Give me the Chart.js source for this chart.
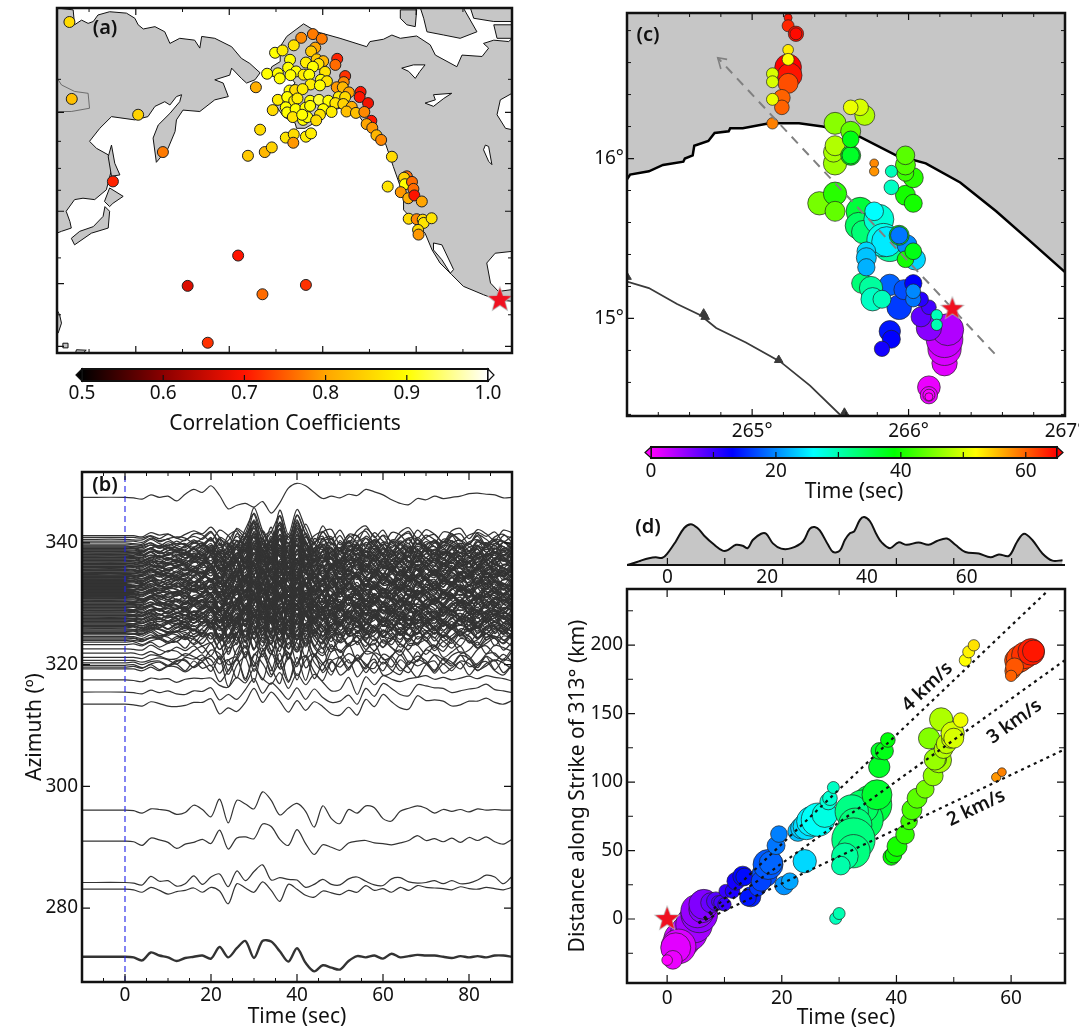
<!DOCTYPE html>
<html>
<head>
<meta charset="utf-8">
<title>Rupture back-projection</title>
<script src="https://cdn.jsdelivr.net/npm/chart.js@4/dist/chart.umd.min.js"></script>
<style>
html,body{margin:0;padding:0;background:#fff;width:1079px;height:1029px;overflow:hidden}
canvas{position:absolute;left:0;top:0}
</style>
</head>
<body>
<canvas id="mapA" width="1200" height="1100"></canvas>
<canvas id="barA" width="1200" height="1100"></canvas>
<canvas id="waves" width="1200" height="1100"></canvas>
<canvas id="mapC" width="1200" height="1100"></canvas>
<canvas id="barC" width="1200" height="1100"></canvas>
<canvas id="envelope" width="1200" height="1100"></canvas>
<canvas id="rupture" width="1200" height="1100"></canvas>
<script>
// ---- panel (a) stations: lon (deg E), Mercator lat (deg), correlation
var stationLon = [125.8,126.3,140.5,145.8,135.1,161.9,151.1,167.1,176.4,155.4,164,167.6,169.1,166.6,165.7,172.1,173.8,173.7,176.4,177.5,175.4,177.9,179.8,173.8,178.4,177.5,169.8,171.4,173,176.4,178.7,180.1,183.1,182.7,179.1,172.6,177.9,168.1,170.4,170.8,174.3,173.1,175.9,177.1,180.5,179.6,180.9,184.8,184.5,177.4,179.4,183,184.3,185.6,188.1,187.9,189.7,172.9,174.1,175.7,170.4,172.4,173.9,174.6,177.3,179.2,181.2,183.4,184.8,182.7,184.4,186.2,169.3,172.1,172.4,174.2,176.3,177.3,180.1,181.9,185.1,187.1,188.9,173.6,175.8,176.7,179.4,178.6,175.6,190.4,189.4,190.6,191.5,192.5,194.8,193.9,198,197.4,197.6,199.1,199.4,196.7,198.3,199.6,201.2,198.4,200.1,201.4,201.6,203.3,200.4,200.5];
var stationLat = [75,58.5,55.1,47.1,40.8,24.9,18.4,16.6,18.6,6.2,46.3,47.1,48.1,51.9,61,50.2,50.9,49.1,50.4,51.1,71.6,72.4,71.4,70,69.5,68.7,68.4,68.9,66.9,66.3,67,66.6,67.1,65.8,66,65.2,65.4,63.9,64,62.9,64.4,63.6,63.7,63.7,64.3,62.6,62.3,63.4,62.1,61.6,61.4,61,61,59.9,60,58.9,57.6,60.3,60.4,60.6,58.3,58.9,58.1,58.6,58.1,58.3,58.1,58.9,58.9,57.6,57.4,56.8,56.1,56.7,55.6,56.3,56.6,57,56.3,55.7,55.8,55.5,55.7,54.6,54,54.6,55.1,53.9,55.1,53.8,53.1,52.3,50.7,49.7,46.1,39.7,41.9,41.6,40.2,40.7,39.2,38.5,37.2,37.8,36.5,32.8,32.7,32.6,31.9,32.9,30.4,29.4];
var stationCorr = [.86,.83,.85,.77,.71,.70,.67,.76,.72,.72,.84,.82,.85,.86,.81,.87,.86,.79,.88,.88,.78,.77,.77,.87,.80,.84,.9,.88,.9,.88,.84,.82,.71,.76,.87,.9,.9,.9,.9,.9,.9,.9,.88,.9,.87,.9,.87,.72,.78,.88,.9,.79,.82,.8,.70,.70,.69,.9,.86,.88,.88,.9,.88,.88,.9,.92,.9,.88,.86,.87,.85,.81,.86,.9,.9,.9,.9,.9,.9,.88,.83,.83,.78,.87,.9,.9,.87,.86,.9,.70,.80,.79,.82,.78,.86,.87,.76,.85,.9,.76,.76,.79,.81,.70,.80,.86,.78,.86,.87,.87,.86,.79];
var epicenterLon = [217.9], epicenterLat = [15.4];
var landAsia = [[123.1,78],[126.6,77.6],[126.9,74.4],[128.4,75.4],[129.8,74.7],[130.9,75.1],[131.9,76.5],[134.4,77.2],[138,76.9],[139.8,75.8],[140.5,74.4],[141.6,73.5],[144.1,74],[146.2,72.9],[147.3,70.4],[149.4,71.5],[152.6,71.1],[153.7,69.4],[154.1,71.9],[156.9,71.5],[160.5,69.7],[162.6,67.2],[164.4,66.1],[166.6,64.1],[165.5,62.6],[163.7,61.9],[162.6,62.9],[160.5,65.1],[160.1,63.6],[156.9,62.6],[158.7,61.9],[159.8,59],[156.9,58.3],[153.7,55.8],[150.1,56.1],[148.7,54],[148.4,51.5],[146.9,47.9],[144.4,44.9],[143.7,50.1],[144.8,52.9],[147.3,55.4],[149.4,57.9],[149.8,59.4],[148.7,59],[147.3,57.2],[146.2,57.9],[144.1,56.9],[142.6,54.7],[139.8,54],[134.8,54.7],[132.3,52.2],[130.1,49.4],[131.6,47.9],[134.1,46.5],[134.8,43.3],[133.7,39],[131.2,36.9],[128.7,37.2],[126.9,36.9],[125.1,34.4],[125.9,32.2],[126.2,30.8],[124.1,30.1],[123.1,29.7]];
var landAmerica = [[174.4,52.2],[174.1,53.3],[171.6,54.7],[170.1,56.9],[171.6,59.7],[174.1,61.9],[173,63.3],[168.4,63.4],[169.1,65.4],[170.9,66.5],[170.9,69.7],[172.3,71.9],[175.9,74.6],[178.7,72.9],[183.7,71.5],[189.4,69.7],[190.1,70.8],[193,71.3],[194.8,72.2],[196.6,71.5],[200.1,72],[203,70.1],[204.1,67.9],[208.7,65.4],[209.8,67.9],[214.1,67.6],[215.5,69.4],[214.4,70.4],[216.6,71.1],[219.8,70.8],[220.5,71.5],[220.5,59.7],[218,58.3],[217.3,55.1],[219.1,52.2],[220.5,51.9],[220.5,25.8],[216.9,25.4],[215.1,23.3],[215.9,19],[217.6,17.2],[220.5,17.6],[220.5,15.1],[217.3,15.4],[214.4,16.5],[210.1,18.3],[207.6,20.8],[205.1,23.3],[203.4,26.1],[201.9,29.7],[197.3,34.7],[197.3,37.6],[196.6,39.7],[195.1,44],[193.4,49],[191.6,50.8],[189.1,52.9],[187.6,55.1],[184.4,56.7],[181.2,55.8],[178.7,53.6],[176.2,52.2]];
var landIslands = [
  [[134.8,48.6],[135.5,44.7],[136.6,42.2],[134.8,41.9],[134.1,46.1]],
  [[134.4,39.4],[137.3,37.6],[135.1,36.1],[134.4,35.4],[133.3,36.5]],
  [[133.4,35.4],[134.4,34.4],[134.1,30.8],[130.5,29.7],[126.9,27.2],[126.2,28.6],[128,30.1],[130.9,31.1],[133,33.3]],
  [[123.1,13.3],[123.7,12.2],[124.1,10.4],[123.4,8.3],[123.1,8.3]],
  [[127.3,4.7],[129.4,4.6],[128.7,4],[127.1,4]],
  [[124.4,6.1],[125.5,6.1],[125.5,5.1],[124.4,5.1]],
  [[196.6,77.6],[200.1,77.6],[199.8,74],[198,74.4],[196.6,75.8]],
  [[200.9,78],[210.1,78],[213,72.9],[209.4,71.5],[205.9,72.2],[202.3,72.9],[201.6,75.8]],
  [[211.6,78],[220.5,78],[220.5,75.1],[216.6,75.1],[212.3,75.8]],
  [[216.6,74.4],[220.5,74.4],[220.5,71.5],[217.3,71.5]]
];
var lakes = [
  [[196.9,65.1],[199.4,65.8],[201.9,65.8],[200.8,64.4],[199.8,62.9],[198.4,64.4]],
  [[201.9,57.6],[204.1,58.3],[203.7,59.4],[207.6,59.7],[205.9,58.6],[203.7,56.9]],
  [[214.8,48.6],[215.5,48.3],[216.2,44.4],[215.5,45.1],[214.4,47.6]],
  [[203.7,27.6],[205.5,27.2],[208,21.9],[207.3,21.1],[205.5,24],[203.7,26.1]]
];
var riverLon = [123.4,124.1,126.9,129.8,130.1,126.2,123.4];
var riverLat = [62.6,61.5,60.1,59.7,56.5,55.8,55.8];
var corrTicks = [0.5,0.6,0.7,0.8,0.9,1.0];
var corrStops = [0.5,0.6,0.7,0.8,0.9,1.0];
var corrColors = [[0,0,0],[139,0,0],[255,20,0],[255,165,0],[255,255,0],[255,255,255]];

// ---- panel (b) seismograms. waveTime is shared; each shape holds the offset from the trace azimuth.
// The isolated traces are read one by one. The dense 319-341 band cannot be separated by eye,
// so its traces reuse the ten typed shapes bandShapes, picked by bandOrder, at the bandAzimuth values.
var waveTime = [-10,0,2,4,6,8,10,12,14,16,18,20,22,24,26,28,30,32,34,36,38,40,42,44,46,48,50,52,54,56,58,60,62,64,66,68,70,72,74,76,78,80,82,84,86,88,90];
var traceAzimuth = [347.5,317.5,315.5,313.5,296.1,291,284.2,283.1,272];
var traceShapes = [
  [0,0,-.1,-.3,.4,0,.2,-.6,.5,1.3,.8,1.9,.3,-1.9,-1.3,-1,-1.6,-.7,-2.6,-.9,1.5,2.3,1.9,.8,-.2,.2,-.1,.5,.3,1.3,.9,.4,-.4,-1,-1.2,-.2,-.4,.2,-.2,0,.2,.6,.7,.5,.4,-.1,0],
  [0,0,-.1,-.3,.3,.1,.2,-.4,.1,.3,.2,.3,-.9,-1.2,.4,-.5,1.8,.2,-.7,1.2,-1.4,1,-.8,.9,-.4,-1.8,-1.6,.4,-2.4,.5,-.8,.7,.1,-.3,.2,.4,.7,.1,.4,0,.3,.6,.2,.7,.4,.2,-.2],
  [0,0,-.1,-.3,.3,-.1,.2,-.3,-.4,.2,.1,.7,-1.3,-.4,-1.2,.4,2.2,-.2,1.5,.3,-1.2,.7,-1.2,.5,-.9,-1.7,-1.5,-.5,-2,.6,-.7,1.4,.6,-.4,-.6,1.2,1,.7,.6,-.1,.2,.5,.7,1.3,.4,.2,-.1],
  [0,0,-.1,-.3,.4,.1,-.3,-.4,-.2,.3,.3,.9,-1.6,-.6,-1.2,.3,2.6,.3,2,.5,-1.3,.6,-1,.4,-.4,-1.6,-1.8,-.5,-1.8,.8,-.4,1.6,.4,-.6,-.8,1.4,.6,.7,.5,-.3,-.1,.5,.5,1,.3,0,.6],
  [0,0,-.1,-.5,.2,.1,-.1,-.7,-.4,.8,.1,-1.1,1.8,-2.1,1.6,1,.2,3,1.6,-.8,.3,1.1,-.2,-2.8,.7,-1.4,-2.2,.1,-.5,.7,.4,-1.4,-1.8,-.2,.3,.7,.3,-.5,.1,-.2,.1,-.3,.2,0,.1,0,0],
  [0,0,-.1,-.7,.5,.2,-.2,-1.2,-.5,-.2,.3,-.4,1.8,-1.3,.5,.7,.4,2.8,2.4,.3,-.7,1.9,-.4,-2.2,-.6,-1,-1.5,-.3,0,.1,-.3,-.4,-.6,-.3,.1,.9,.1,.4,-.1,.5,-.2,.6,.1,.7,-.1,-.5,.3],
  [0,0,-.1,-.4,1,.2,.3,-.6,-.2,1.1,-.3,.9,1.4,-.7,1.9,.3,1.8,2.9,.4,.8,.5,.4,-.8,-.3,.5,-.3,-.4,.6,.9,.2,-.4,-.5,.6,.8,.1,-.1,0,.3,-.2,.3,-.2,-.1,.4,1.2,.9,-.2,1],
  [0,0,-.1,-.5,.3,-.2,-.8,-.4,-.2,.2,-.5,.3,-.3,-2.4,.9,.2,-.5,1.2,-.2,-2,.8,0,-1,-1.3,-.3,-.6,-.9,-.2,-.5,.6,-.2,.1,-.5,.3,-.2,.6,.3,.2,.1,-.1,.4,.1,0,.3,.1,-.1,.3],
  [0,0,-.1,-.6,.7,.2,-.1,-.7,-.2,0,.2,-.3,1.6,-.1,1.4,2.6,-.2,2.6,2.5,.9,-.8,1.4,-1,-2.4,-1.4,-1.8,-2.1,-.7,.1,-.1,.2,-.3,.5,-.1,.1,.3,.2,.2,0,-.2,.1,-.1,.1,-.1,.2,.2,0]
];
var bandAzimuth = [319.3,319.6,319.9,320.3,320.7,321.2,321.9,322.6,323.3,323.7,324,324.2,324.4,324.6,324.9,325.1,325.4,325.7,325.9,326.2,326.4,326.7,327,327.2,327.5,327.7,328,328.2,328.5,328.8,329,329.3,329.5,329.8,330,330.3,330.5,330.8,331,331.2,331.5,331.7,332,332.2,332.5,332.7,333,333.2,333.5,333.7,334,334.2,334.5,334.7,335,335.2,335.5,335.7,336,336.2,336.5,336.7,337,337.2,337.5,337.7,338,338.2,338.5,338.7,339,339.2,339.5,339.7,340,340.3,340.6,340.9,341.2];
var bandOrder = [1,5,2,7,4,8,1,3,5,2,8,7,4,1,5,9,2,8,3,7,1,4,5,2,8,3,9,6,2,7,0,5,8,4,1,9,3,6,7,2,5,0,8,4,9,1,6,3,7,5,2,9,4,0,8,6,1,3,7,6,0,9,3,0,4,6,9,0,3,6,2,0,9,6,3,0,9,6,0];
var bandExtraAzimuth = [325.25,325.55,326.05,326.3,326.55,326.85,327.1,327.35,327.6,327.85,328.1,328.35,328.65,328.9,329.15,329.4,329.65,329.9,330.15,330.4,330.65,330.9,331.1,331.35,331.6,331.85,332.1,332.35,332.6,332.85,333.1,333.35,333.6,333.85,334.1,334.35,334.6,334.85,335.1,335.35,335.6,335.85,336.1,336.35,336.6,336.85,337.1,337.35,337.6,337.85,338.1,338.35,338.6,338.85,339.1,339.35];
var bandExtraOrder = [3,8,2,7,5,9,4,1,6,2,8,3,5,7,9,1,4,6,3];
var bandShapes = [
  [0,0,0,-.2,.5,.1,.3,-.4,.2,.8,.3,1.4,-.3,-1.8,1.2,.4,4.6,.8,-1.5,4.2,.2,4.3,1.2,-1.3,1.6,-.6,.9,-1.2,.8,1.6,-.3,.9,-1.1,.6,1.3,-.4,1,.2,-1,.8,1.2,-.5,1,.3,-.8,.9,.5],
  [0,0,0,-.3,.3,-.3,.4,.3,-.5,.4,1.1,-.4,1.8,-2.9,.6,1.9,-2.2,3.1,.3,-2.4,2.6,-1.8,2.2,-.4,-1.9,1.1,.3,1.5,-1.3,.4,1.6,-1,-.6,1.5,.2,-1.4,.7,1.3,-.7,.2,1.1,-1,.6,1.2,-.3,-1,.7],
  [0,0,.1,-.4,.2,.5,-.2,.6,.9,-.4,.6,1.5,.2,.9,-2.1,2.2,.5,-2.4,1.8,.4,-2.8,1.3,-2.5,1.7,.3,-1.6,1.4,-.4,.9,-1.2,.5,-.9,1.4,-.3,-1.2,.9,.2,-1,1.1,.5,-.6,1,-.9,.3,.9,.4,-.7],
  [0,0,-.1,-.2,.6,-.1,-.5,.3,-.3,.5,-.7,.9,-1.6,1.2,1.9,-1.3,3.4,-.9,2.6,-2.1,1,-.5,3.1,.2,-1.1,.7,-1.5,.9,1.2,-.8,-.4,1.3,.2,-1.1,.8,.6,-.9,.5,-.4,1.2,-.7,-.2,1.1,-.8,.6,.2,-.4],
  [0,0,0,-.3,.1,.4,.1,-.6,.5,.2,.9,-.9,.7,-2.3,.5,2.4,-1.8,1.6,2.7,-1.4,.4,2.9,-1.2,.8,2,-1.8,-.3,1.1,.2,-1.4,1.2,.4,-1.1,.9,-.7,1.4,-.5,.9,.1,-.9,.8,.3,-1.2,.7,-.1,1,-.3],
  [0,0,.1,-.2,.4,-.4,.2,.5,-.6,1,-.2,.3,-2.4,-.6,1.3,-2.2,2.1,.6,-1.6,2.3,-2.3,.7,1.8,-1.9,.6,1.2,-1.3,-.2,1.5,.5,-1,.8,-.5,-1.2,1,.2,.7,-1,.5,-.6,1,.6,-.5,.2,1.1,-.9,.4],
  [0,0,0,-.1,.3,-.2,.5,-.1,-.5,.6,.4,-.6,1.2,.3,-1.5,1.4,3.8,-.7,.9,3.5,-1.1,3.6,.5,-.9,.9,1.3,-1.2,.3,-.6,1.4,.2,-1.3,.8,.4,-1,1.2,-.2,-.9,.9,.6,-.4,-1.1,.8,.2,.9,-.7,.3],
  [0,0,.1,-.3,.2,.3,-.4,.4,.3,-.7,.8,.5,-1.7,.4,.9,-2.6,1.2,2.4,-1.9,.2,1.7,-2.1,.4,1.5,-1.6,.3,.8,-1.2,1.3,-.5,-.9,1.4,.6,-1.3,-.2,1.1,.3,-1.2,.6,-.2,1.3,-.6,-.1,1,-1.1,.5,.2],
  [0,0,0,-.2,.4,.2,-.3,-.2,.6,.1,-.5,1.2,.6,-1.2,-.4,1.7,-1.4,.5,-2.2,1.9,.7,-1.5,2.4,-.8,-2.1,.9,1.2,-.9,-.3,1,.5,-1.1,.3,1.2,-.8,-.5,1.2,.4,-1.1,.3,.9,.2,-1.3,.5,.7,-.6,.9],
  [0,0,-.1,-.1,.5,-.4,.1,.4,.2,-.6,.2,1.3,-1,-.2,1.6,.3,2.9,1.1,-1.2,2.8,.4,3.2,-.8,.6,1.2,-.5,-1.4,.8,.5,-1.1,1.1,-.3,-.8,.4,1.3,-.9,.3,.8,-.6,.9,-.3,.7,1,-1,.4,.8,-.5]
];
var waveTimeTicks = [0,20,40,60,80];
var azimuthTicks = [280,300,320,340];

// ---- panel (c) back-projected sources
var cLon = [266.23,266.23,266.23,266.25,266.13,266.08,266.13,266.08,266.13,266.13,266.13,266.13,265.94,265.88,265.97,266.03,266.03,266.03,265.88,265.89,265.83,265.7,265.76,265.77,265.83,265.88,265.69,265.68,265.71,265.81,265.84,265.86,265.78,266.04,265.99,265.94,265.94,265.98,266.03,265.73,265.73,265.73,265.43,265.53,265.53,265.98,266.03,266.03,265.98,265.98,265.98,265.89,265.89,265.78,265.78,265.72,265.69,265.63,265.53,265.53,265.52,265.53,265.63,265.63,265.63,265.63,265.23,265.24,265.23,265.19,265.19,265.23,265.23,265.28,265.28,265.13,265.13,265.13,265.23,265.23,265.13,266.18,266.18];
var cLat = [14.72,14.81,14.87,14.93,14.94,15.01,15.07,15.12,14.57,14.52,14.52,14.51,15.07,15.21,15.18,15.22,15.12,15.17,14.92,14.87,14.81,15.22,15.19,15.12,15.12,15.46,15.67,15.58,15.54,15.62,15.49,15.48,15.67,15.37,15.46,15.52,15.52,15.37,15.42,15.42,15.38,15.32,15.72,15.78,15.67,15.77,15.72,15.88,15.91,15.96,16.02,15.92,15.82,15.97,15.92,16.27,16.32,16.32,16.22,15.97,16.04,16.08,16.17,16.02,16.02,16.12,16.57,16.52,16.47,16.38,16.32,16.88,16.83,16.78,16.78,16.53,16.48,16.37,16.68,16.62,16.22,15.02,14.96];
var cPower = [38,50,55,48,38,30,22,22,34,26,18,12,37,32,30,26,23,22,32,27,23,30,35,35,27,50,42,40,35,45,50,45,28,32,30,30,26,25,25,28,30,26,35,35,30,30,27,30,25,30,28,18,22,13,14,30,25,22,33,35,30,30,30,30,26,25,40,37,30,25,22,12,18,23,18,18,18,18,16,18,17,17,17];
var cTime = [1.5,2,3,4,6,8,9.5,11,1,1,.5,0,16,18,17,13,19,20,14,13,12,33,31,29,29.5,31,36,34,33,28,27,25,26,24,20,38,19,40,38,24,23,22,45,41,44,40,40,41,42,43,43.5,29.5,29,58,57.5,48,50,51,46,47,47.5,48,44,38,37,38,65,64,61,60,60,64,63,64,64.5,50,50,51,53,52,58.5,29.5,30];
var cEpicenterLon = [266.28], cEpicenterLat = [15.06];
var coastLon = [264.2,264.22,264.34,264.43,264.56,264.57,264.62,264.63,264.72,264.76,264.85,264.86,264.94,265.11,265.2,265.3,265.45,265.64,265.92,266.11,266.33,266.56,266.77,267];
var coastLat = [15.87,15.9,15.92,15.96,15.98,16,16.02,16.08,16.11,16.16,16.17,16.19,16.19,16.22,16.22,16.22,16.2,16.16,16.02,15.97,15.85,15.67,15.49,15.29];
var trenchLon = [264.2,264.34,264.52,264.67,264.77,264.96,265.18,265.37,265.57];
var trenchLat = [15.23,15.19,15.09,15.02,14.94,14.85,14.73,14.58,14.39];
var toothLon = [264.69,264.7,265.17,265.59,264.2];
var toothLat = [15.03,15.01,14.74,14.41,15.26];
var strikeLon = [266.55,264.78];
var strikeLat = [14.78,16.63];
var strikeHeadLon = [264.84,264.78,264.8];
var strikeHeadLat = [16.62,16.63,16.56];
var timeBarTicks = [0,20,40,60];
var timeStops = [0,13,26,39,52,65];
var timeColors = [[255,0,255],[0,0,255],[0,255,255],[0,255,0],[255,255,0],[255,0,0]];

// ---- panel (d) top: source time function
var envTime = [-8.05,-7.05,-5.37,-3.69,-2.35,-1,0,1.68,3.36,4.7,6.04,7.38,9.4,11.07,12.08,13.76,15.1,16.1,17.11,18.79,19.8,21.14,22.82,24.83,27.18,28.52,29.53,30.54,32.21,33.22,34.56,35.57,36.58,37.45,38.59,39.46,40.6,41.95,42.95,44.63,46.3,47.99,50.34,52.35,54.03,56.04,57.72,59.73,62.42,64.77,66.44,68.46,70.13,71.48,73.15,75.17,77.18,79.2];
var envAmp = [0,.03,.09,.14,.16,.15,.24,.49,.77,.85,.77,.61,.42,.3,.31,.42,.4,.35,.52,.65,.65,.45,.34,.35,.49,.75,.79,.72,.42,.27,.3,.52,.66,.7,.94,1,.91,.63,.47,.35,.47,.42,.47,.42,.5,.55,.42,.27,.24,.16,.22,.19,.49,.65,.52,.24,.09,.1];
var envTicks = [0,20,40,60];
var envMarks = [0,11.5,23.1,34.5,45.9,57.4,69];

// ---- panel (d) bottom: distance along strike against time
var dTime = [2.6,3.8,4.7,5.6,5.3,6.1,6.4,2,1.5,1,0,7.6,8.5,8.8,9.4,10,10.2,11.4,12,13.2,13.5,14.6,14.1,15.8,17,16.4,17.6,18.1,19,19.5,20.4,21.4,24,22.8,23.4,24.3,25.2,26.3,27.5,28.1,28.4,29,35.7,34.2,34,32.2,32.8,32.5,32.5,31,30.3,36.6,29.4,30,37,37,37.9,38.5,39.1,39.5,40.1,41.5,42.2,42.7,43.6,45,46.4,47.4,47,46.7,45.7,47.8,48.2,48.7,49.4,49.8,50,51.2,52,52.6,53.5,57.4,58.4,60.3,61,60.9,61.5,62.4,60.6,63.5,60,63.9];
var dDist = [-15,-10,-4,3.4,5.8,7,10.7,-20,-21,-29.8,-30,11.9,13,12.6,11.9,10.7,20.4,20.4,27.6,31.3,30.8,16.2,15.5,22.8,32.5,27.6,39.8,41,53.6,62,24.5,27.6,42.2,64,66.4,67.6,71.3,72.5,76.1,85.8,88.2,96,83.4,72.5,82,78.5,68.8,58,49.5,45.8,39,90.7,.5,4,111,122.7,122.7,130.7,45.3,47,53,61.6,71.3,79.8,88.2,94.8,104.5,116,116.8,116.5,131.9,145.7,124,128,131,135.5,132,145.2,188.9,195,199.8,103.5,107.2,181,186,188.8,190,192.5,184,195,177.5,195.6];
var dPower = [55,55,55,55,50,40,45,52,45,28,16,30,28,18,22,20,20,22,27,30,26,30,25,25,38,30,45,35,27,25,28,25,35,30,32,40,45,50,38,25,22,18,60,60,50,50,50,65,50,40,28,45,18,18,32,25,27,22,25,25,30,28,25,30,30,27,30,38,30,32,32,35,28,30,26,35,30,22,18,18,17,14,13,24,30,35,40,40,27,40,17,33];
var dEpicenterTime = [0], dEpicenterDist = [0];
var speedNames = ["4 km/s","3 km/s","2 km/s"];
var speedValues = [4,3,2];
var speedLineTime = [[5.5,66.5],[5.5,69.4],[5.5,69.4]];
var speedLineDist = [[-3,240],[-3,189],[-3,124]];
var speedLabelTime = [45.4,60.6,53.9];
var speedLabelDist = [169.5,144,81];
var dTimeTicks = [0,20,40,60];
var dDistTicks = [0,50,100,150,200];

// ---- helpers
var W = 1200, H = 1100;
var FONT = '"Noto Sans", "Open Sans", sans-serif';
Chart.defaults.font.family = FONT;
Chart.defaults.color = '#111';
Chart.defaults.animation = false;

function rampColor(v, stops, colors) {
    if (v <= stops[0]) return 'rgb(' + colors[0].join(',') + ')';
    for (var i = 1; i < stops.length; i++) {
        if (v <= stops[i]) {
            var f = (v - stops[i - 1]) / (stops[i] - stops[i - 1]);
            var c = colors[i - 1].map(function (a, k) { return Math.round(a + (colors[i][k] - a) * f); });
            return 'rgb(' + c.join(',') + ')';
        }
    }
    return 'rgb(' + colors[colors.length - 1].join(',') + ')';
}

function starImage(size) {
    var cv = document.createElement('canvas');
    cv.width = cv.height = size + 6;
    var c = cv.getContext('2d');
    var m = cv.width / 2, R = size / 2, r = R * 0.42;
    c.beginPath();
    for (var i = 0; i < 10; i++) {
        var a = -Math.PI / 2 + i * Math.PI / 5, q = i % 2 ? r : R;
        c[i ? 'lineTo' : 'moveTo'](m + q * Math.cos(a), m + q * Math.sin(a));
    }
    c.closePath();
    c.lineWidth = 1.5;
    c.strokeStyle = '#b5b5b5';
    c.stroke();
    c.fillStyle = '#f01020';
    c.fill();
    return cv;
}

function zip(xs, ys) {
    return xs.map(function (x, i) { return { x: x, y: ys[i] }; });
}

function fixedTicks(values) {
    return function (axis) {
        axis.ticks = values.map(function (v) { return { value: v }; });
    };
}

// plot box in page pixels, axis strip sizes included in the padding
function box(L, T, R, B, wy, hx) {
    return { autoPadding: false, padding: { left: L - wy, top: T, right: W - R, bottom: H - B - hx } };
}

function noOverflow(s) {
    s.paddingTop = s.paddingBottom = s.paddingLeft = s.paddingRight = 0;
}

function xAxis(min, max, ticks, size, hx, pad, title, fmt) {
    return {
        type: 'linear', min: min, max: max, display: !!hx,
        grid: { display: false, drawTicks: false }, border: { display: false },
        afterBuildTicks: fixedTicks(ticks),
        afterFit: function (s) { s.height = hx; noOverflow(s); },
        ticks: { autoSkip: false, maxRotation: 0, padding: pad, font: { size: size }, callback: fmt || function (v) { return String(v); } },
        title: title ? { display: true, text: title, font: { size: 21 }, padding: 0, color: '#111' } : { display: false }
    };
}

function yAxis(min, max, ticks, size, wy, pad, title, fmt) {
    return {
        type: 'linear', min: min, max: max, display: !!wy,
        grid: { display: false, drawTicks: false }, border: { display: false },
        afterBuildTicks: fixedTicks(ticks),
        afterFit: function (s) { s.width = wy; noOverflow(s); },
        ticks: { autoSkip: false, padding: pad, font: { size: size }, callback: fmt || function (v) { return String(v); } },
        title: title ? { display: true, text: title, font: { size: 21 }, padding: 0, color: '#111' } : { display: false }
    };
}

// land polygons go under the datasets, through the scales
Chart.register({
    id: 'land',
    beforeDatasetsDraw: function (chart, args, opts) {
        if (!opts.polygons) return;
        var ctx = chart.ctx, a = chart.chartArea, x = chart.scales.x, y = chart.scales.y;
        function trace(poly) {
            ctx.beginPath();
            poly.forEach(function (p, i) {
                ctx[i ? 'lineTo' : 'moveTo'](x.getPixelForValue(p[0]), y.getPixelForValue(p[1]));
            });
            ctx.closePath();
        }
        ctx.save();
        ctx.beginPath();
        ctx.rect(a.left, a.top, a.right - a.left, a.bottom - a.top);
        ctx.clip();
        ctx.lineWidth = 1;
        ctx.strokeStyle = '#111';
        opts.polygons.forEach(function (p) {
            trace(p);
            ctx.fillStyle = '#c6c6c6';
            ctx.fill();
            ctx.stroke();
        });
        (opts.holes || []).forEach(function (p) {
            trace(p);
            ctx.fillStyle = '#fff';
            ctx.fill();
            ctx.stroke();
        });
        ctx.restore();
    }
});

// matplotlib style box with inward ticks, panel letters and rotated notes
Chart.register({
    id: 'frame',
    afterDraw: function (chart, args, opts) {
        var ctx = chart.ctx, a = chart.chartArea, x = chart.scales.x, y = chart.scales.y;
        ctx.save();
        ctx.strokeStyle = '#111';
        function ticksX(values, len, lw) {
            ctx.lineWidth = lw;
            (values || []).forEach(function (v) {
                var p = x.getPixelForValue(v);
                ctx.beginPath();
                ctx.moveTo(p, a.bottom);
                ctx.lineTo(p, a.bottom - len);
                if (!opts.bottomOnly) {
                    ctx.moveTo(p, a.top);
                    ctx.lineTo(p, a.top + len);
                }
                ctx.stroke();
            });
        }
        function ticksY(values, len, lw) {
            ctx.lineWidth = lw;
            (values || []).forEach(function (v) {
                var p = y.getPixelForValue(v);
                ctx.beginPath();
                ctx.moveTo(a.left, p);
                ctx.lineTo(a.left + len, p);
                ctx.moveTo(a.right, p);
                ctx.lineTo(a.right - len, p);
                ctx.stroke();
            });
        }
        if (opts.lineWidth) {
            ticksX(opts.xMajor, opts.majorLen || 7, 1.2);
            ticksX(opts.xMinor, opts.minorLen || 4, 1);
            ticksY(opts.yMajor, opts.majorLen || 7, 1.2);
            ticksY(opts.yMinor, opts.minorLen || 4, 1);
            ctx.lineWidth = opts.lineWidth;
            ctx.beginPath();
            if (opts.bottomOnly && !opts.tips) {
                ctx.moveTo(a.left, a.bottom);
                ctx.lineTo(a.right, a.bottom);
            } else {
                ctx.rect(a.left, a.top, a.right - a.left, a.bottom - a.top);
            }
            ctx.stroke();
        }
        if (opts.tips) {
            var mid = (a.top + a.bottom) / 2, d = 6;
            [[a.left, -d, opts.tips[0]], [a.right, d, opts.tips[1]]].forEach(function (t) {
                ctx.beginPath();
                ctx.moveTo(t[0], a.top);
                ctx.lineTo(t[0] + t[1], mid);
                ctx.lineTo(t[0], a.bottom);
                ctx.closePath();
                ctx.fillStyle = t[2];
                ctx.fill();
                ctx.lineWidth = 1.2;
                ctx.stroke();
            });
        }
        if (opts.letter) {
            ctx.fillStyle = '#111';
            ctx.font = '600 20px ' + FONT;
            ctx.textAlign = 'center';
            ctx.textBaseline = 'middle';
            ctx.fillText(opts.letter, a.left + opts.letterDx, a.top + opts.letterDy);
        }
        (opts.notes || []).forEach(function (n) {
            var px = x.getPixelForValue(n.x), py = y.getPixelForValue(n.y);
            var run = x.getPixelForValue(1) - x.getPixelForValue(0);
            var rise = y.getPixelForValue(0) - y.getPixelForValue(n.slope);
            ctx.save();
            ctx.translate(px, py);
            ctx.rotate(-Math.atan2(rise, run));
            ctx.fillStyle = '#111';
            ctx.font = '600 19px ' + FONT;
            ctx.textAlign = 'center';
            ctx.textBaseline = 'middle';
            ctx.fillText(n.text, 0, 0);
            ctx.restore();
        });
        ctx.restore();
    }
});

function colorBar(id, L, T, R, B, hx, pad, min, max, ticks, title, stops, colors, tips, marks, fmt) {
    new Chart(document.getElementById(id), {
        type: 'bar',
        data: {
            labels: [''],
            datasets: [{
                data: [[min, max]],
                barPercentage: 1,
                categoryPercentage: 1,
                borderWidth: 0,
                backgroundColor: function (c) {
                    var sx = c.chart.scales.x;
                    var x0 = sx ? sx.getPixelForValue(min) : NaN, x1 = sx ? sx.getPixelForValue(max) : NaN;
                    if (!isFinite(x0) || !isFinite(x1)) return '#888';
                    var g = c.chart.ctx.createLinearGradient(x0, 0, x1, 0);
                    stops.forEach(function (s, i) {
                        g.addColorStop((s - min) / (max - min), 'rgb(' + colors[i].join(',') + ')');
                    });
                    return g;
                }
            }]
        },
        options: {
            indexAxis: 'y', responsive: false, maintainAspectRatio: false,
            layout: box(L, T, R, B, 0, hx),
            plugins: {
                legend: { display: false }, tooltip: { enabled: false },
                frame: { lineWidth: 2, xMajor: marks, majorLen: 6, bottomOnly: true, tips: tips }
            },
            scales: {
                x: xAxis(min, max, ticks, 19, hx, pad, title, fmt),
                y: { type: 'category', display: false }
            }
        }
    });
}

// ---- (a) station map
new Chart(document.getElementById('mapA'), {
    type: 'scatter',
    data: {
        datasets: [
            { data: zip(epicenterLon, epicenterLat), pointStyle: starImage(24), clip: false, order: 0 },
            {
                data: zip(stationLon, stationLat), order: 1, pointRadius: 5.5, borderWidth: 1, borderColor: '#222',
                backgroundColor: stationCorr.map(function (v) { return rampColor(v, corrStops, corrColors); })
            },
            { data: zip(riverLon, riverLat), showLine: true, pointRadius: 0, borderColor: '#555', borderWidth: 0.8, order: 2 }
        ]
    },
    options: {
        responsive: false, maintainAspectRatio: false,
        layout: box(57, 8, 512, 353, 0, 0),
        plugins: {
            legend: { display: false }, tooltip: { enabled: false },
            land: { polygons: [landAsia, landAmerica].concat(landIslands), holes: lakes },
            frame: {
                lineWidth: 2.5, xMajor: [140, 160, 180, 200], xMinor: [130, 150, 170, 190, 210],
                yMajor: [55.6, 34.4, 18.9, 5.4], yMinor: [62.7, 49.4, 43.6, 38.9, 24.4, 12.2],
                letter: '(a)', letterDx: 48, letterDy: 20
            }
        },
        scales: {
            x: xAxis(123.14, 220.5, [], 18, 0, 0),
            y: yAxis(4, 78, [], 18, 0, 0)
        }
    }
});
colorBar('barA', 82, 369, 488, 381, 56, 1, 0.5, 1.0, corrTicks, 'Correlation Coefficients', corrStops, corrColors,
    ['#000', '#fff'], [0.6, 0.7, 0.8, 0.9], function (v) { return v.toFixed(1); });

// ---- (b) record section
var waveDatasets = [];
function addTrace(az, shape, lw) {
    waveDatasets.push({
        data: waveTime.map(function (t, k) { return { x: t, y: az + shape[k] }; }),
        showLine: true, pointRadius: 0, borderColor: '#333', borderWidth: lw, tension: 0.3, order: 2
    });
}
traceAzimuth.forEach(function (az, i) { addTrace(az, traceShapes[i], az === 272 ? 2.4 : 1.2); });
bandAzimuth.forEach(function (az, i) { addTrace(az, bandShapes[bandOrder[i % bandOrder.length]], 1.25); });
bandExtraAzimuth.forEach(function (az, i) { addTrace(az, bandShapes[bandExtraOrder[i % bandExtraOrder.length]], 1.25); });
var waveYMin = 267.85, waveYMax = 351.66;
waveDatasets.push({
    data: [{ x: 0, y: waveYMin }, { x: 0, y: waveYMax }], showLine: true, pointRadius: 0,
    borderColor: '#2020e8', borderWidth: 1.1, borderDash: [6, 4], order: 1
});
new Chart(document.getElementById('waves'), {
    type: 'scatter',
    data: { datasets: waveDatasets },
    options: {
        responsive: false, maintainAspectRatio: false,
        layout: box(82, 472, 512, 982, 60, 48),
        plugins: {
            legend: { display: false }, tooltip: { enabled: false },
            frame: {
                lineWidth: 2.5, xMajor: waveTimeTicks, xMinor: [-5, 5, 10, 15, 25, 30, 35, 45, 50, 55, 65, 70, 75, 85],
                yMajor: azimuthTicks, majorLen: 8, minorLen: 4, letter: '(b)', letterDx: 23, letterDy: 13
            }
        },
        scales: {
            x: xAxis(-10, 90, waveTimeTicks, 19, 48, 2, 'Time (sec)'),
            y: yAxis(waveYMin, waveYMax, azimuthTicks, 19, 60, 4, 'Azimuth (º)')
        }
    }
});

// ---- (c) source map
new Chart(document.getElementById('mapC'), {
    type: 'scatter',
    data: {
        datasets: [
            { data: zip(cEpicenterLon, cEpicenterLat), pointStyle: starImage(22), order: 0 },
            { data: zip(strikeLon, strikeLat), showLine: true, pointRadius: 0, borderColor: '#808080', borderWidth: 2, borderDash: [9, 7], order: 1 },
            { data: zip(strikeHeadLon, strikeHeadLat), showLine: true, pointRadius: 0, borderColor: '#808080', borderWidth: 1.6, order: 1 },
            {
                data: zip(cLon, cLat), order: 2, borderWidth: 0.7, borderColor: '#222',
                pointRadius: cPower.map(function (p) { return p / 3; }),
                backgroundColor: cTime.map(function (t) { return rampColor(t, timeStops, timeColors); })
            },
            { data: zip(coastLon, coastLat), showLine: true, pointRadius: 0, borderColor: '#000', borderWidth: 2.5, fill: 'end', backgroundColor: '#c6c6c6', order: 5 },
            { data: zip(trenchLon, trenchLat), showLine: true, pointRadius: 0, borderColor: '#3a3a3a', borderWidth: 1.8, order: 4 },
            { data: zip(toothLon, toothLat), pointStyle: 'triangle', pointRadius: 5, backgroundColor: '#3a3a3a', borderColor: '#3a3a3a', order: 4 }
        ]
    },
    options: {
        responsive: false, maintainAspectRatio: false,
        layout: box(627, 13, 1065, 416, 40, 30),
        plugins: {
            legend: { display: false }, tooltip: { enabled: false },
            frame: {
                lineWidth: 2.5, xMajor: [265, 266], xMinor: [264.4, 264.6, 264.8, 265.2, 265.4, 265.6, 265.8, 266.2, 266.4, 266.6, 266.8],
                yMajor: [15, 16], yMinor: [14.4, 14.6, 14.8, 15.2, 15.4, 15.6, 15.8, 16.2, 16.4, 16.6, 16.8],
                letter: '(c)', letterDx: 21, letterDy: 22
            }
        },
        scales: {
            x: xAxis(264.2, 267, [265, 266, 267], 19, 30, 4, null, function (v) { return v + '°'; }),
            y: yAxis(14.39, 16.91, [15, 16], 19, 40, 3, null, function (v) { return v + '°'; })
        }
    }
});
colorBar('barC', 651, 447, 1057, 458, 47, 2, 0, 65, timeBarTicks, 'Time (sec)', timeStops, timeColors,
    ['#ff00ff', '#ff0000'], [10, 20, 30, 40, 50, 60]);

// ---- (d) envelope
new Chart(document.getElementById('envelope'), {
    type: 'scatter',
    data: {
        datasets: [{
            data: zip(envTime, envAmp), showLine: true, pointRadius: 0, tension: 0.35,
            borderColor: '#111', borderWidth: 2, fill: 'origin', backgroundColor: '#c6c6c6'
        }]
    },
    options: {
        responsive: false, maintainAspectRatio: false,
        layout: box(627, 515, 1065, 565, 0, 30),
        plugins: {
            legend: { display: false }, tooltip: { enabled: false },
            frame: { lineWidth: 2, xMajor: envMarks, majorLen: 7, bottomOnly: true, letter: '(d)', letterDx: 21, letterDy: 12 }
        },
        scales: {
            x: xAxis(-8.1, 79.7, envTicks, 19, 30, 1),
            y: yAxis(0, 1.04, [], 18, 0, 0)
        }
    }
});

// ---- (d) distance against time
var speedDatasets = speedNames.map(function (n, i) {
    return {
        label: n, data: zip(speedLineTime[i], speedLineDist[i]), showLine: true, pointRadius: 0,
        borderColor: '#111', borderWidth: 2.2, borderDash: [3, 4], order: 1
    };
});
new Chart(document.getElementById('rupture'), {
    type: 'scatter',
    data: {
        datasets: [
            { data: zip(dEpicenterTime, dEpicenterDist), pointStyle: starImage(24), order: 0 }
        ].concat(speedDatasets).concat([{
            data: zip(dTime, dDist), order: 2, borderWidth: 0.7, borderColor: '#222',
            pointRadius: dPower.map(function (p) { return p / 3; }),
            backgroundColor: dTime.map(function (t) { return rampColor(t, timeStops, timeColors); })
        }])
    },
    options: {
        responsive: false, maintainAspectRatio: false,
        layout: box(627, 589, 1065, 983, 62, 48),
        plugins: {
            legend: { display: false }, tooltip: { enabled: false },
            frame: {
                lineWidth: 2.5, xMajor: dTimeTicks, xMinor: [10, 30, 50], majorLen: 8, minorLen: 6,
                yMajor: dDistTicks, yMinor: [-25, 25, 75, 125, 175, 225],
                notes: speedNames.map(function (n, i) {
                    return { text: n, x: speedLabelTime[i], y: speedLabelDist[i], slope: speedValues[i] };
                })
            }
        },
        scales: {
            x: xAxis(-7, 69.4, dTimeTicks, 19, 48, 4, 'Time (sec)'),
            y: yAxis(-46.7, 240.9, dDistTicks, 19, 62, 4, 'Distance along Strike of 313° (km)')
        }
    }
});
</script>
</body>
</html>
